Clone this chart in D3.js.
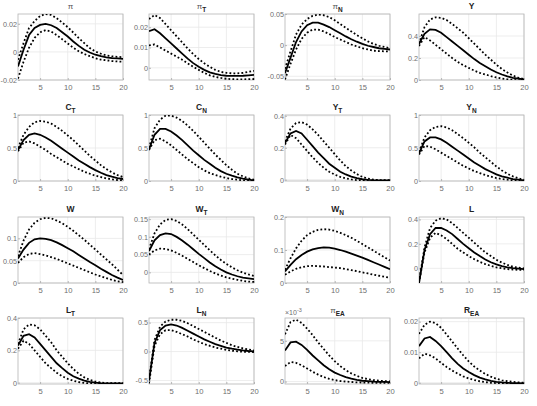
<!DOCTYPE html>
<html><head><meta charset="utf-8">
<script src="https://cdn.jsdelivr.net/npm/d3@7"></script>
<style>
body{margin:0;background:#fff}
text{font-family:"Liberation Sans",Arial,Helvetica,sans-serif}
</style>
</head><body>
<svg id="c" width="537" height="406"></svg>
<script>
// horizons
const horizon = d3.range(1, 21);
const xTicks = [5, 10, 15, 20];

// titles: [main, subscript, greek?]
const titles = [
  ["π","",true],["π","T",true],["π","N",true],["Y","",false],
  ["C","T",false],["C","N",false],["Y","T",false],["Y","N",false],
  ["W","",false],["W","T",false],["W","N",false],["L","",false],
  ["L","T",false],["L","N",false],["π","EA",true],["R","EA",false]
];

// y limits and ticks for each panel
const yLims = [
  [-0.02,0.027],[-0.006,0.0265],[-0.056,0.05],[0,0.6],
  [0,1],[0,1],[-0.008,0.405],[0,1],
  [0,0.148],[-0.03,0.156],[0,0.2],[-0.12,0.42],
  [-0.008,0.4],[-0.56,0.58],[-0.0003,0.0078],[-0.0004,0.0212]
];
const yTickVals = [
  [-0.02,0,0.02],[0,0.01,0.02],[-0.05,0,0.05],[0,0.2,0.4],
  [0,0.5,1],[0,0.5,1],[0,0.2,0.4],[0,0.5,1],
  [0,0.05,0.1],[0,0.05,0.1,0.15],[0,0.1,0.2],[0,0.2,0.4],
  [0,0.2,0.4],[-0.5,0,0.5],[0,0.005],[0,0.01,0.02]
];
const yTickLabels = [
  ["-0.02","0","0.02"],["0","0.01","0.02"],["-0.05","0","0.05"],["0","0.2","0.4"],
  ["0","0.5","1"],["0","0.5","1"],["0","0.2","0.4"],["0","0.5","1"],
  ["0","0.05","0.1"],["0","0.05","0.1","0.15"],["0","0.1","0.2"],["0","0.2","0.4"],
  ["0","0.2","0.4"],["-0.5","0","0.5"],["0","5"],["0","0.01","0.02"]
];

// series: lower band, median, upper band
const pi_lo  = [-0.019,-0.007,0.003,0.010,0.014,0.0155,0.0145,0.012,0.009,0.006,0.003,0.0005,-0.0015,-0.003,-0.0045,-0.0055,-0.006,-0.0065,-0.0068,-0.007];
const pi_med = [-0.0103,0.0015,0.012,0.017,0.0192,0.020,0.019,0.017,0.014,0.011,0.0074,0.0043,0.0015,-0.0004,-0.002,-0.003,-0.0039,-0.0044,-0.0046,-0.0049];
const pi_hi  = [-0.0056,0.0062,0.017,0.022,0.0256,0.027,0.0263,0.024,0.0209,0.0176,0.0138,0.0098,0.0062,0.0027,0.0003,-0.0013,-0.0025,-0.0032,-0.0035,-0.0037];

const piT_lo  = [0.011,0.0115,0.010,0.0085,0.007,0.0055,0.004,0.0022,0.0005,-0.001,-0.0025,-0.0037,-0.0045,-0.005,-0.0054,-0.0056,-0.0057,-0.0057,-0.0056,-0.0055];
const piT_med = [0.018,0.019,0.017,0.0145,0.012,0.0095,0.007,0.0045,0.0023,0.0005,-0.001,-0.0022,-0.003,-0.0036,-0.0039,-0.004,-0.004,-0.0039,-0.0037,-0.0035];
const piT_hi  = [0.024,0.026,0.0245,0.0215,0.0185,0.0155,0.0125,0.0095,0.0068,0.0043,0.0022,0.0005,-0.001,-0.002,-0.0025,-0.0027,-0.0027,-0.0025,-0.002,-0.0015];

const piN_lo  = [-0.055,-0.03,-0.007,0.01,0.02,0.025,0.025,0.022,0.018,0.013,0.009,0.005,0.001,-0.002,-0.005,-0.007,-0.009,-0.0095,-0.01,-0.01];
const piN_med = [-0.045,-0.02,0.005,0.022,0.032,0.036,0.036,0.033,0.029,0.024,0.019,0.014,0.0095,0.0055,0.002,-0.001,-0.003,-0.005,-0.006,-0.007];
const piN_hi  = [-0.038,-0.01,0.017,0.033,0.042,0.047,0.049,0.048,0.045,0.04,0.034,0.028,0.022,0.016,0.011,0.006,0.002,-0.001,-0.003,-0.005];

const Y_lo  = [0.31,0.39,0.36,0.32,0.28,0.24,0.2,0.165,0.135,0.11,0.085,0.065,0.05,0.035,0.023,0.013,0.006,0.001,-0.002,-0.004];
const Y_med = [0.33,0.42,0.46,0.455,0.43,0.39,0.35,0.31,0.27,0.23,0.19,0.155,0.125,0.095,0.07,0.05,0.033,0.02,0.012,0.005];
const Y_hi  = [0.33,0.48,0.55,0.57,0.565,0.545,0.51,0.47,0.43,0.38,0.33,0.28,0.23,0.185,0.14,0.1,0.068,0.04,0.02,0.008];

const CT_lo  = [0.45,0.58,0.6,0.57,0.52,0.47,0.41,0.36,0.31,0.26,0.22,0.18,0.14,0.11,0.08,0.06,0.04,0.025,0.015,0.01];
const CT_med = [0.47,0.62,0.7,0.72,0.7,0.66,0.61,0.55,0.49,0.43,0.37,0.31,0.26,0.21,0.165,0.125,0.09,0.065,0.045,0.03];
const CT_hi  = [0.5,0.7,0.82,0.89,0.91,0.9,0.87,0.82,0.76,0.69,0.62,0.54,0.46,0.38,0.31,0.24,0.18,0.13,0.09,0.06];

const CN_lo  = [0.47,0.62,0.64,0.6,0.54,0.47,0.4,0.33,0.27,0.21,0.16,0.12,0.09,0.065,0.045,0.03,0.02,0.01,0.005,0.0];
const CN_med = [0.48,0.7,0.79,0.79,0.75,0.69,0.62,0.54,0.46,0.39,0.32,0.26,0.2,0.15,0.11,0.08,0.055,0.035,0.02,0.01];
const CN_hi  = [0.5,0.8,0.93,0.99,0.99,0.96,0.91,0.84,0.76,0.67,0.58,0.49,0.4,0.32,0.24,0.17,0.11,0.07,0.04,0.02];

const YT_lo  = [0.22,0.28,0.26,0.22,0.18,0.14,0.105,0.075,0.05,0.032,0.018,0.008,0.002,-0.002,-0.004,-0.005,-0.006,-0.006,-0.006,-0.006];
const YT_med = [0.23,0.29,0.305,0.29,0.25,0.21,0.17,0.135,0.1,0.075,0.05,0.033,0.02,0.01,0.003,-0.001,-0.003,-0.004,-0.004,-0.004];
const YT_hi  = [0.24,0.32,0.355,0.36,0.345,0.315,0.28,0.24,0.2,0.16,0.12,0.085,0.058,0.035,0.018,0.007,0.001,-0.002,-0.003,-0.003];

const YN_lo  = [0.4,0.53,0.52,0.48,0.43,0.38,0.33,0.28,0.23,0.19,0.15,0.12,0.09,0.065,0.045,0.03,0.02,0.01,0.005,0.0];
const YN_med = [0.42,0.6,0.66,0.66,0.63,0.58,0.52,0.46,0.4,0.34,0.28,0.23,0.18,0.14,0.1,0.07,0.05,0.03,0.02,0.01];
const YN_hi  = [0.44,0.66,0.77,0.82,0.83,0.81,0.77,0.71,0.65,0.58,0.51,0.43,0.36,0.29,0.22,0.16,0.11,0.07,0.04,0.02];

const W_lo  = [0.045,0.058,0.065,0.067,0.065,0.062,0.058,0.054,0.049,0.044,0.039,0.034,0.029,0.024,0.019,0.015,0.011,0.007,0.004,0.002];
const W_med = [0.055,0.075,0.09,0.098,0.1,0.099,0.096,0.091,0.085,0.078,0.071,0.063,0.055,0.047,0.04,0.032,0.025,0.018,0.012,0.007];
const W_hi  = [0.06,0.095,0.12,0.135,0.143,0.146,0.145,0.14,0.134,0.126,0.117,0.107,0.097,0.086,0.075,0.064,0.053,0.042,0.03,0.018];

const WT_lo  = [0.05,0.062,0.067,0.066,0.062,0.055,0.047,0.038,0.029,0.02,0.012,0.004,-0.003,-0.009,-0.014,-0.018,-0.021,-0.024,-0.026,-0.027];
const WT_med = [0.06,0.09,0.105,0.11,0.108,0.1,0.09,0.078,0.065,0.052,0.04,0.028,0.017,0.008,0.0,-0.006,-0.011,-0.015,-0.017,-0.019];
const WT_hi  = [0.065,0.11,0.135,0.148,0.15,0.145,0.135,0.122,0.107,0.092,0.077,0.062,0.048,0.035,0.024,0.014,0.006,-0.001,-0.006,-0.01];

const WN_lo  = [0.025,0.035,0.043,0.048,0.051,0.052,0.051,0.05,0.048,0.047,0.045,0.042,0.039,0.036,0.032,0.029,0.025,0.022,0.019,0.016];
const WN_med = [0.035,0.055,0.072,0.085,0.095,0.102,0.106,0.108,0.107,0.104,0.1,0.095,0.089,0.083,0.077,0.07,0.063,0.056,0.049,0.042];
const WN_hi  = [0.04,0.075,0.105,0.128,0.145,0.155,0.161,0.163,0.162,0.158,0.152,0.145,0.137,0.128,0.118,0.108,0.098,0.088,0.078,0.068];

const L_lo  = [-0.12,0.13,0.25,0.29,0.27,0.24,0.2,0.16,0.13,0.1,0.075,0.053,0.035,0.02,0.008,0.0,-0.006,-0.01,-0.012,-0.013];
const L_med = [-0.12,0.15,0.28,0.33,0.33,0.31,0.28,0.24,0.2,0.165,0.13,0.1,0.072,0.05,0.032,0.018,0.008,0.001,-0.003,-0.006];
const L_hi  = [-0.11,0.17,0.33,0.39,0.41,0.4,0.37,0.33,0.29,0.25,0.21,0.17,0.13,0.1,0.07,0.047,0.028,0.014,0.005,0.0];

const LT_lo  = [0.21,0.26,0.24,0.2,0.16,0.12,0.09,0.062,0.04,0.024,0.012,0.004,-0.001,-0.004,-0.005,-0.006,-0.006,-0.006,-0.006,-0.006];
const LT_med = [0.23,0.29,0.3,0.28,0.24,0.2,0.16,0.12,0.09,0.062,0.04,0.025,0.013,0.005,0.0,-0.003,-0.004,-0.004,-0.004,-0.004];
const LT_hi  = [0.24,0.33,0.36,0.355,0.33,0.29,0.25,0.2,0.16,0.12,0.085,0.055,0.033,0.017,0.007,0.001,-0.002,-0.003,-0.003,-0.003];

const LN_lo  = [-0.55,0.1,0.3,0.37,0.37,0.34,0.3,0.26,0.21,0.17,0.13,0.1,0.07,0.05,0.03,0.015,0.005,-0.002,-0.006,-0.008];
const LN_med = [-0.5,0.15,0.37,0.45,0.47,0.45,0.41,0.36,0.31,0.26,0.21,0.17,0.13,0.1,0.07,0.05,0.035,0.02,0.01,0.005];
const LN_hi  = [-0.48,0.2,0.43,0.52,0.55,0.55,0.53,0.49,0.44,0.39,0.34,0.29,0.24,0.19,0.15,0.11,0.08,0.055,0.035,0.02];

const piEA_lo  = [0.0019,0.0024,0.0023,0.0020,0.0016,0.0012,0.00085,0.00055,0.00033,0.00018,0.00007,0.0,-0.00005,-0.0001,-0.00012,-0.00014,-0.00015,-0.00016,-0.00016,-0.00016];
const piEA_med = [0.0038,0.0048,0.0049,0.0045,0.0039,0.0032,0.0026,0.0020,0.0015,0.0011,0.0008,0.00055,0.00035,0.0002,0.0001,0.00005,0.0,-0.00003,-0.00005,-0.00006];
const piEA_hi  = [0.0058,0.0073,0.0076,0.0072,0.0065,0.0057,0.0048,0.0040,0.0032,0.0025,0.0019,0.0014,0.0010,0.0007,0.00045,0.0003,0.00018,0.0001,0.00005,0.00002];

const REA_lo  = [0.008,0.0095,0.009,0.008,0.0065,0.0052,0.004,0.003,0.0021,0.0014,0.0009,0.0005,0.0002,0.0,-0.0001,-0.0002,-0.0003,-0.0003,-0.0003,-0.0003];
const REA_med = [0.012,0.0145,0.015,0.0137,0.012,0.01,0.008,0.0062,0.0047,0.0035,0.0025,0.0017,0.0011,0.0006,0.0003,0.0001,0.0,-0.0001,-0.0001,-0.0002];
const REA_hi  = [0.016,0.019,0.02,0.0195,0.018,0.0158,0.0135,0.0112,0.009,0.007,0.0053,0.004,0.0029,0.002,0.0013,0.0008,0.0005,0.0003,0.0001,0.0];

const series = [
  [pi_lo,pi_med,pi_hi],[piT_lo,piT_med,piT_hi],[piN_lo,piN_med,piN_hi],[Y_lo,Y_med,Y_hi],
  [CT_lo,CT_med,CT_hi],[CN_lo,CN_med,CN_hi],[YT_lo,YT_med,YT_hi],[YN_lo,YN_med,YN_hi],
  [W_lo,W_med,W_hi],[WT_lo,WT_med,WT_hi],[WN_lo,WN_med,WN_hi],[L_lo,L_med,L_hi],
  [LT_lo,LT_med,LT_hi],[LN_lo,LN_med,LN_hi],[piEA_lo,piEA_med,piEA_hi],[REA_lo,REA_med,REA_hi]
];

// layout
const colLeft = [18, 149, 285, 419];
const rowTop = [14, 115, 217, 318];
const W = 105, H = 66;

const svg = d3.select("#c");
const defs = svg.append("defs");
const axisGray = "#8c8c8c", labelGray = "#6e6e6e", gridGray = "#e8e8e8";

series.forEach((s, i) => {
  const col = i % 4, row = Math.floor(i / 4);
  const L0 = colLeft[col], T0 = rowTop[row];
  const x = d3.scaleLinear().domain([1, 20]).range([L0, L0 + W]);
  const y = d3.scaleLinear().domain(yLims[i]).range([T0 + H, T0]);
  const g = svg.append("g");

  defs.append("clipPath").attr("id", "cp" + i)
    .append("rect").attr("x", L0).attr("y", T0).attr("width", W).attr("height", H);

  // grid
  g.selectAll(".gx").data(xTicks).enter().append("line")
    .attr("x1", d => x(d)).attr("x2", d => x(d)).attr("y1", T0).attr("y2", T0 + H)
    .attr("stroke", gridGray).attr("stroke-width", 0.8);
  g.selectAll(".gy").data(yTickVals[i]).enter().append("line")
    .attr("x1", L0).attr("x2", L0 + W).attr("y1", d => y(d)).attr("y2", d => y(d))
    .attr("stroke", gridGray).attr("stroke-width", 0.8);

  // axes with d3
  const xa = g.append("g").attr("transform", `translate(0,${T0 + H})`)
    .call(d3.axisBottom(x).tickValues(xTicks).tickSize(-2).tickPadding(5).tickFormat(d3.format("d")));
  const ya = g.append("g").attr("transform", `translate(${L0},0)`)
    .call(d3.axisLeft(y).tickValues(yTickVals[i]).tickSize(-2).tickPadding(1)
      .tickFormat((d, k) => yTickLabels[i][k]));
  [xa, ya].forEach((a, ai) => {
    a.select(".domain").remove();
    a.selectAll(".tick line").attr("stroke", axisGray).attr("stroke-width", 0.6);
    a.selectAll(".tick text").attr("fill", labelGray).style("font-size", ai === 0 ? "7.6px" : "7.2px")
      .style("font-family", '"Liberation Sans", Arial, sans-serif');
  });

  // box
  g.append("rect").attr("x", L0).attr("y", T0).attr("width", W).attr("height", H)
    .attr("fill", "none").attr("stroke", "#b4b4b4").attr("stroke-width", 0.8);

  // lines
  const line = d3.line().x((d, k) => x(horizon[k])).y(d => y(d));
  const lg = g.append("g").attr("clip-path", `url(#cp${i})`);
  [s[0], s[2]].forEach(arr => {
    lg.append("path").attr("d", line(arr)).attr("fill", "none")
      .attr("stroke", "#000").attr("stroke-width", 1.8)
      .attr("stroke-dasharray", "1.8,2.2");
  });
  lg.append("path").attr("d", line(s[1])).attr("fill", "none")
    .attr("stroke", "#000").attr("stroke-width", 1.8);

  // title
  const t = titles[i];
  const tt = g.append("text").attr("x", L0 + W / 2).attr("y", T0 - 5)
    .attr("text-anchor", "middle").attr("fill", "#222");
  tt.append("tspan").text(t[0])
    .style("font-size", t[2] ? "8px" : "8.5px")
    .style("font-weight", t[2] ? "normal" : "bold")
    .attr("fill", t[2] ? "#555" : "#222");
  if (t[1]) {
    tt.append("tspan").text(t[1]).attr("dy", 3)
      .style("font-size", "6.5px").style("font-weight", "bold");
  }

  if (i === 14) {
    const m = g.append("text").attr("x", L0).attr("y", T0 - 3)
      .attr("fill", labelGray).style("font-size", "7px");
    m.append("tspan").text("×10");
    m.append("tspan").text("-3").attr("dy", -3).style("font-size", "5.5px");
  }
});
</script>
</body></html>
